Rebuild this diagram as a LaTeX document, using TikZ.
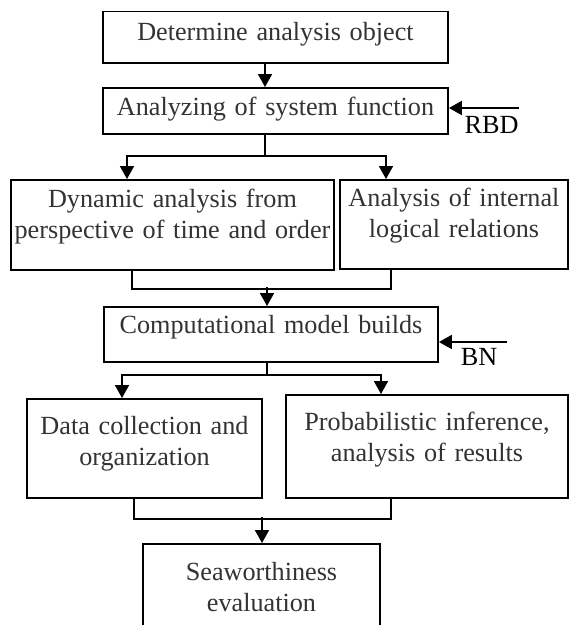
\documentclass[tikz,border=0pt]{standalone}
\usepackage{fontspec}
\setmainfont{Liberation Serif}
\usepackage{xcolor}
\definecolor{lineBlack}{HTML}{000000}
\definecolor{boxText}{HTML}{333333}
\usepackage{tikz}
\usetikzlibrary{
    arrows.meta,
    positioning,
    calc
}
\tikzset{
    % Base style for all boxes
    flow base/.style={
        font=\fontsize{26.2}{31}\selectfont,
        align=center,
        text=boxText,
        inner xsep=0pt,
        inner ysep=0pt,
        anchor=north,
    },
    % Process boxes - plain rectangle, text sits near the top
    process/.style={
        flow base,
        rectangle,
        draw=lineBlack,
        line width=1.8pt,
    },
    % Arrow style - solid triangle tip
    arrow/.style={
        -{Triangle[length=13pt, width=14pt]},
        line width=1.8pt,
        draw=lineBlack,
    },
    % Plain joining line
    joint/.style={
        line width=1.8pt,
        draw=lineBlack,
    },
    % Label style for the method names
    side label/.style={
        font=\fontsize{26.2}{31}\selectfont,
        text=lineBlack,
        inner sep=0pt,
    },
}

\begin{document}
\begin{tikzpicture}[x=1pt, y=-1pt]
    \useasboundingbox (0,0) rectangle (569,625);
    \clip (0,0) rectangle (569,625);

    \node (det_object) [process, text width=345pt, text height=29.5pt, text depth=22pt] at (275.5,10.5) {Determine analysis object};
    \node (sys_function) [process, text width=345pt, text height=28pt, text depth=18pt] at (275.5,87) {Analyzing of system function};
    \node (dyn_analysis) [process, text width=323pt, text height=28pt, text depth=62pt] at (172.5,179) {Dynamic analysis from\\perspective of time and order};
    \node (logic_rel) [process, text width=228pt, text height=27pt, text depth=62pt] at (454,179) {Analysis of internal\\logical relations};
    \node (comp_model) [process, text width=334pt, text height=27pt, text depth=28pt] at (271,306) {Computational model builds};
    \node (data_coll) [process, text width=235pt, text height=36pt, text depth=63pt] at (144.5,398) {Data collection and\\organization};
    \node (prob_inf) [process, text width=282pt, text height=36pt, text depth=67pt] at (427,394) {Probabilistic inference,\\analysis of results};
    \node (seaworthy) [process, text width=237pt, text height=37pt, text depth=64pt] at (261.5,543) {Seaworthiness\\evaluation};

    \draw [arrow] ([xshift=-10.5pt]det_object.south) -- ([xshift=-10.5pt]sys_function.north);
    \draw [joint] ([xshift=-10.5pt]sys_function.south) -- ++(0,21) coordinate (fork_top);
    \draw [arrow] (fork_top) -| ([xshift=-45.5pt]dyn_analysis.north);
    \draw [arrow] (fork_top) -| ([xshift=-68pt]logic_rel.north);
    \draw [joint] ([xshift=-40.5pt]dyn_analysis.south) |- ([xshift=-63pt,yshift=-19pt]logic_rel.south) -- ([xshift=-63pt]logic_rel.south);
    \draw [arrow] ([xshift=-4pt,yshift=19pt]comp_model.north) -- ([xshift=-4pt]comp_model.north);
    \draw [joint] ([xshift=-4pt]comp_model.south) -- ++(0,12) coordinate (fork_mid);
    \draw [arrow] (fork_mid) -| ([xshift=-22.5pt]data_coll.north);
    \draw [arrow] (fork_mid) -| ([xshift=-46pt]prob_inf.north);
    \draw [joint] ([xshift=-10.5pt]data_coll.south) |- ([xshift=-36pt,yshift=-20pt]prob_inf.south) -- ([xshift=-36pt]prob_inf.south);
    \draw [arrow] ([xshift=0.5pt,yshift=26pt]seaworthy.north) -- ([xshift=0.5pt]seaworthy.north);

    \coordinate (rbd_src) at (519,108);
    \draw [arrow] (rbd_src) -- (rbd_src -| sys_function.east);
    \node (rbd_label) [side label] at (491.5,124.5) {RBD};
    \coordinate (bn_src) at (507,342);
    \draw [arrow] (bn_src) -- (bn_src -| comp_model.east);
    \node (bn_label) [side label] at (479,356.5) {BN};
\end{tikzpicture}
\end{document}
